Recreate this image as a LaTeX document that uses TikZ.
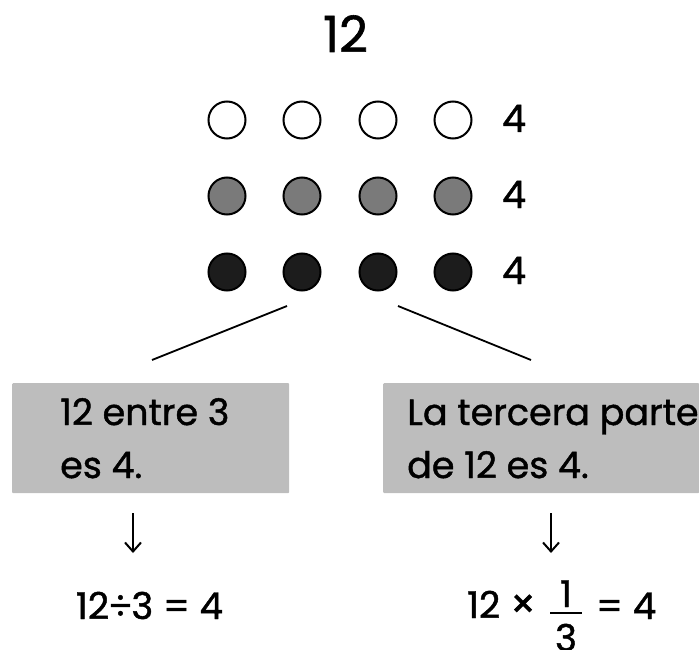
\documentclass[tikz,border=0pt]{standalone}
\usepackage{fontspec}
\setmainfont{Poppins}[FakeBold=1.2]
\usetikzlibrary{arrows.meta}
\definecolor{midgray}{HTML}{7A7A7A}
\definecolor{darkdot}{HTML}{1C1C1C}
\definecolor{boxgray}{HTML}{BDBDBD}
\begin{document}
\begin{tikzpicture}[x=1pt,y=-1pt,
  dot/.style={circle,draw=black,line width=2pt,minimum size=37pt,inner sep=0pt},
  txt/.style={inner sep=0pt,anchor=base west,font=\fontsize{36.5}{42}\selectfont},
  cnt/.style={inner sep=0pt,anchor=base west,font=\fontsize{38}{44}\selectfont},
  frm/.style={inner sep=0pt,font=\fontsize{37}{42}\selectfont},
  gbox/.style={fill=boxgray,inner sep=0pt,anchor=north west,minimum height=110pt,rounded corners=1pt},
  conn/.style={line width=1.8pt},
  arr/.style={line width=2pt,-{Straight Barb[length=9pt,width=16pt,line width=2pt]}}]
\useasboundingbox (0,0) rectangle (699,650);
% title
\node[inner sep=0pt,anchor=base,font=\fontsize{50}{56}\selectfont] (title) at (345.5,52) {12};
% dots
\foreach \x [count=\i] in {227,302,378,453}{
  \node[dot,fill=white] (a\i) at (\x,120) {};
  \node[dot,fill=midgray] (b\i) at (\x,196) {};
  \node[dot,fill=darkdot] (c\i) at (\x,272) {};
}
\node[cnt] (n1) at (502,132) {4};
\node[cnt] (n2) at (502,208) {4};
\node[cnt] (n3) at (502,284) {4};
% connectors
\coordinate (l1) at (287,306);
\coordinate (l2) at (152,360);
\coordinate (r1) at (398,306);
\coordinate (r2) at (531,360);
\draw[conn] (l1) -- (l2);
\draw[conn] (r1) -- (r2);
% boxes
\node[gbox,minimum width=277pt] (lbox) at (12,383) {};
\node[gbox,minimum width=316pt] (rbox) at (383,383) {};
\node[txt] (lt1) at (60,425) {12 entre 3};
\node[txt] (lt2) at (60,478) {es 4.};
\node[txt] (rt1) at (407,425) {La tercera parte};
\node[txt] (rt2) at (407,478) {de 12 es 4.};
% arrows
\coordinate (la1) at (133,513);
\coordinate (la2) at (133,553);
\coordinate (ra1) at (551,513);
\coordinate (ra2) at (551,553);
\draw[arr] (la1) -- (la2);
\draw[arr] (ra1) -- (ra2);
% formulas
\node[frm,anchor=base] (lf) at (149.5,619) {12\kern-1pt÷\kern-1pt3 = 4};
\node[frm,anchor=base west] (rf1) at (467,618) {12 {\fontsize{40}{44}\selectfont ×}};
\node[frm,anchor=base] (num) at (566,607) {1};
\node[frm,anchor=base] (den) at (566,651) {3};
\coordinate (fb1) at (550,613);
\coordinate (fb2) at (582,613);
\draw[line width=2pt] (fb1) -- (fb2);
\node[frm,anchor=base west] (rf2) at (596,619) {= 4};
\end{tikzpicture}
\end{document}
